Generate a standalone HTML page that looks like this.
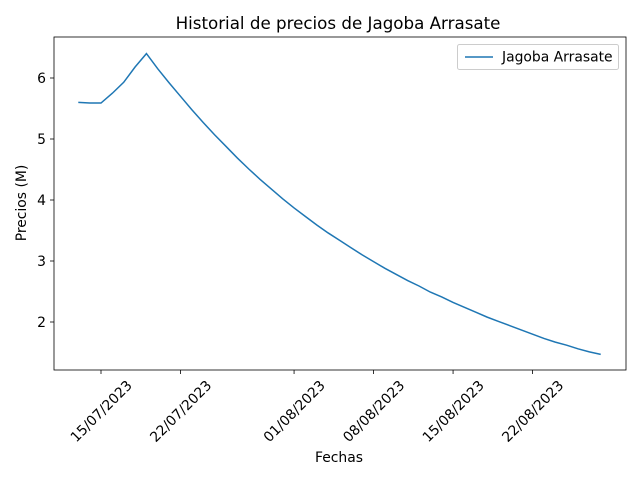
<!DOCTYPE html>
<html><head><meta charset="utf-8"><style>
body{margin:0;background:#fff;}
svg text{font-family:"DejaVu Sans","Liberation Sans",sans-serif;fill:#000;}
</style></head><body>
<svg id="chart" width="640" height="480" viewBox="0 0 640 480" xmlns="http://www.w3.org/2000/svg">
<rect width="640" height="480" fill="#fff"/>
<text x="338" y="29" font-size="16.7" text-anchor="middle">Historial de precios de Jagoba Arrasate</text>
<g id="yticks"></g>
<g id="xticks"></g>
<path id="line" fill="none" stroke="#1f77b4" stroke-width="1.5"/>
<rect x="54" y="37" width="572" height="333" fill="none" stroke="#000" stroke-width="0.8"/>
<text x="339" y="462" font-size="13.9" text-anchor="middle">Fechas</text>
<text x="26" y="203" font-size="13.9" text-anchor="middle" transform="rotate(-90 26 203)">Precios (M)</text>
<g>
<rect x="457.5" y="44.5" width="161" height="25" rx="2" fill="#fff" stroke="#ccc"/>
<line x1="465" y1="57" x2="493" y2="57" stroke="#1f77b4" stroke-width="1.5"/>
<text x="502" y="61.5" font-size="13.9">Jagoba Arrasate</text>
</g>
</svg>
<script>
const startDay = -2; // days relative to 15/07/2023
const prices = [5.6,5.59,5.59,5.75,5.93,6.18,6.4,6.15,5.92,5.7,5.48,5.27,5.07,4.88,4.69,4.51,4.34,4.18,4.02,3.87,3.73,3.59,3.46,3.34,3.22,3.10,2.99,2.88,2.78,2.68,2.59,2.49,2.41,2.32,2.24,2.16,2.08,2.01,1.94,1.87,1.80,1.73,1.67,1.62,1.56,1.51,1.47];
const xTickDays = [0,7,17,24,31,38];
const xTickLabels = ["15/07/2023","22/07/2023","01/08/2023","08/08/2023","15/08/2023","22/08/2023"];
const yTicks = [2,3,4,5,6];
const NS="http://www.w3.org/2000/svg";
const xs = d => 101 + d*11.357;
const ys = v => 322 - (v-2)*61;
const line = document.getElementById('line');
line.setAttribute('d', prices.map((v,i)=>(i?'L':'M')+xs(startDay+i).toFixed(2)+','+ys(v).toFixed(2)).join(''));
const yg=document.getElementById('yticks');
yTicks.forEach(v=>{
  const l=document.createElementNS(NS,'line');
  l.setAttribute('x1',50);l.setAttribute('x2',54);l.setAttribute('y1',ys(v));l.setAttribute('y2',ys(v));l.setAttribute('stroke','#000');l.setAttribute('stroke-width','0.8');
  
  
  yg.appendChild(l);
  const t=document.createElementNS(NS,'text');
  t.setAttribute('x',46);t.setAttribute('y',ys(v)+5);t.setAttribute('font-size','13.9');t.setAttribute('text-anchor','end');
  t.textContent=v;
  
  
  yg.appendChild(t);
});
const xg=document.getElementById('xticks');
xTickDays.forEach((d,i)=>{
  const x=xs(d);
  const l=document.createElementNS(NS,'line');
  l.setAttribute('x1',x);l.setAttribute('x2',x);l.setAttribute('y1',370);l.setAttribute('y2',374);l.setAttribute('stroke','#000');l.setAttribute('stroke-width','0.8');
  
  
  xg.appendChild(l);
  const t=document.createElementNS(NS,'text');
  const cy=411;
  t.setAttribute('x',x);t.setAttribute('y',cy+5);t.setAttribute('font-size','13.9');t.setAttribute('text-anchor','middle');
  t.setAttribute('transform','rotate(-45 '+x+' '+cy+')');
  t.textContent=xTickLabels[i];
  
  
  xg.appendChild(t);
});
</script>
</body></html>
